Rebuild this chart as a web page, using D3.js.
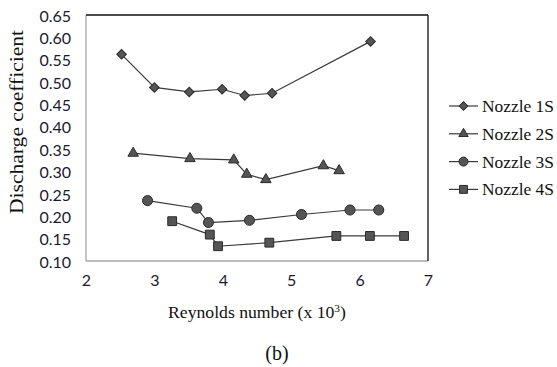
<!DOCTYPE html>
<html>
<head>
<meta charset="utf-8">
<script src="https://cdn.jsdelivr.net/npm/d3@7"></script>
<style>
  body { margin: 0; background: #fff; }
</style>
</head>
<body>
<script>
// values
const seriesNames = ['Nozzle 1S', 'Nozzle 2S', 'Nozzle 3S', 'Nozzle 4S'];
const nozzle1X = [2.52, 3.00, 3.51, 3.99, 4.32, 4.72, 6.16];
const nozzle1Y = [0.562, 0.488, 0.478, 0.484, 0.470, 0.475, 0.591];
const nozzle2X = [2.69, 3.52, 4.16, 4.35, 4.63, 5.47, 5.70];
const nozzle2Y = [0.341, 0.329, 0.326, 0.294, 0.282, 0.313, 0.302];
const nozzle3X = [2.90, 3.62, 3.79, 4.39, 5.15, 5.86, 6.28];
const nozzle3Y = [0.235, 0.218, 0.186, 0.191, 0.204, 0.214, 0.214];
const nozzle4X = [3.26, 3.81, 3.93, 4.68, 5.66, 6.15, 6.65];
const nozzle4Y = [0.189, 0.159, 0.133, 0.141, 0.156, 0.156, 0.156];
const xTicks = [2, 3, 4, 5, 6, 7];
const yTicks = [0.10, 0.15, 0.20, 0.25, 0.30, 0.35, 0.40, 0.45, 0.50, 0.55, 0.60, 0.65];

const serif = '"Liberation Serif", "Times New Roman", Times, serif';
const sans = 'Lato, "Open Sans", sans-serif';

const width = 557, height = 367;
const margin = { top: 15, right: 129, bottom: 106, left: 86 };
const plotW = width - margin.left - margin.right;
const plotH = height - margin.top - margin.bottom;

const svg = d3.select('body').append('svg')
    .attr('width', width)
    .attr('height', height);
const g = svg.append('g')
    .attr('transform', `translate(${margin.left},${margin.top})`);

const x = d3.scaleLinear().domain([2, 7]).range([0, plotW]);
const y = d3.scaleLinear().domain([0.10, 0.65]).range([plotH, 0]);

// marker shapes per series
const shapes = [
    { type: d3.symbolSquare, size: 46, rotate: 45 },
    { type: d3.symbolTriangle, size: 48, rotate: 0 },
    { type: d3.symbolCircle, size: 80, rotate: 0 },
    { type: d3.symbolSquare, size: 78, rotate: 0 }
];

const series = [
    nozzle1X.map((v, i) => [v, nozzle1Y[i]]),
    nozzle2X.map((v, i) => [v, nozzle2Y[i]]),
    nozzle3X.map((v, i) => [v, nozzle3Y[i]]),
    nozzle4X.map((v, i) => [v, nozzle4Y[i]])
];

// axes, no tick marks
const xAxis = g.append('g')
    .attr('transform', `translate(0,${plotH})`)
    .call(d3.axisBottom(x).tickValues(xTicks).tickSize(0).tickPadding(14).tickFormat(d3.format('d')));
const yAxis = g.append('g')
    .call(d3.axisLeft(y).tickValues(yTicks).tickSize(0).tickPadding(15).tickFormat(d3.format('.2f')));
[xAxis, yAxis].forEach(a => {
    a.select('.domain').remove();
    a.attr('font-family', sans).attr('font-size', 16);
    a.selectAll('text').attr('fill', '#1a1a2e');
});
yAxis.selectAll('text').attr('dy', '0.38em');

// plot frame: grey left/bottom, dark top/right
g.append('line').attr('x1', 0).attr('x2', 0).attr('y1', 0).attr('y2', plotH)
    .attr('stroke', '#a6a6a6').attr('stroke-width', 1.3);
g.append('line').attr('x1', 0).attr('x2', plotW).attr('y1', plotH).attr('y2', plotH)
    .attr('stroke', '#a6a6a6').attr('stroke-width', 1.3);
g.append('line').attr('x1', 0).attr('x2', plotW).attr('y1', 0).attr('y2', 0)
    .attr('stroke', '#111').attr('stroke-width', 1.3);
g.append('line').attr('x1', plotW).attr('x2', plotW).attr('y1', 0).attr('y2', plotH)
    .attr('stroke', '#111').attr('stroke-width', 1.3);

const line = d3.line().x(d => x(d[0])).y(d => y(d[1]));

series.forEach((pts, s) => {
    g.append('path')
        .datum(pts)
        .attr('d', line)
        .attr('fill', 'none')
        .attr('stroke', '#3a3a3a')
        .attr('stroke-width', 1.2);
    const sym = d3.symbol().type(shapes[s].type).size(shapes[s].size);
    g.selectAll(null)
        .data(pts)
        .enter()
        .append('path')
        .attr('d', sym)
        .attr('transform', d => `translate(${x(d[0])},${y(d[1])}) rotate(${shapes[s].rotate})`)
        .attr('fill', '#555')
        .attr('stroke', '#2a2a2a')
        .attr('stroke-width', 1);
});

// axis titles
svg.append('text')
    .attr('x', margin.left + plotW / 2)
    .attr('y', 318)
    .attr('text-anchor', 'middle')
    .attr('font-family', serif)
    .attr('font-size', 17)
    .attr('fill', '#111')
    .attr('textLength', 178)
    .attr('lengthAdjust', 'spacingAndGlyphs')
    .html('Reynolds number (x 10<tspan dy="-6" font-size="11">3</tspan><tspan dy="6">)</tspan>');

svg.append('text')
    .attr('transform', 'translate(23,122) rotate(-90)')
    .attr('text-anchor', 'middle')
    .attr('font-family', serif)
    .attr('font-size', 18)
    .attr('fill', '#111')
    .attr('textLength', 184)
    .attr('lengthAdjust', 'spacingAndGlyphs')
    .text('Discharge coefficient');

// legend
const legend = svg.append('g').attr('transform', 'translate(449,106)');
seriesNames.forEach((name, i) => {
    const row = legend.append('g').attr('transform', `translate(0,${i * 27.8})`);
    row.append('line').attr('x1', 0).attr('x2', 29).attr('y1', 0).attr('y2', 0)
        .attr('stroke', '#3a3a3a').attr('stroke-width', 1.2);
    row.append('path')
        .attr('d', d3.symbol().type(shapes[i].type).size(shapes[i].size * 0.8))
        .attr('transform', `translate(14.5,0) rotate(${shapes[i].rotate})`)
        .attr('fill', '#555')
        .attr('stroke', '#2a2a2a')
        .attr('stroke-width', 1);
    row.append('text')
        .attr('x', 33)
        .attr('y', 0)
        .attr('dy', '0.35em')
        .attr('font-family', serif)
        .attr('font-size', 17)
        .attr('fill', '#111')
        .attr('textLength', 72)
        .attr('lengthAdjust', 'spacingAndGlyphs')
        .text(name);
});

// panel label
svg.append('text')
    .attr('x', 277)
    .attr('y', 360)
    .attr('text-anchor', 'middle')
    .attr('font-family', serif)
    .attr('font-size', 20)
    .attr('fill', '#111')
    .text('(b)');
</script>
</body>
</html>
